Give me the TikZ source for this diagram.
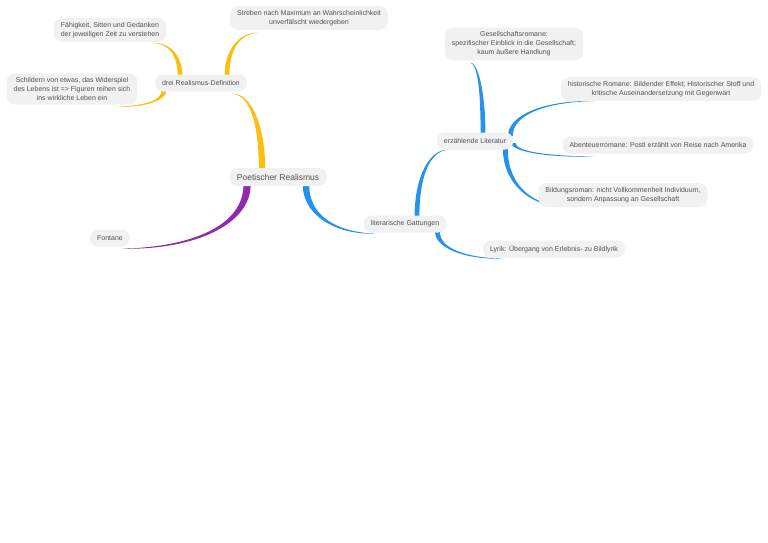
\documentclass[tikz,border=0pt]{standalone}
\usepackage{fontspec}
\setsansfont{Liberation Sans}
\definecolor{mapgold}{HTML}{FBBE12}
\definecolor{mappurple}{HTML}{9029AC}
\definecolor{mapblue}{HTML}{2792EA}
\definecolor{mapbox}{HTML}{F1F1F1}
\definecolor{maptext}{HTML}{525252}
\usetikzlibrary{calc,backgrounds}
\tikzset{
    mapnode/.style={
        fill=mapbox,
        rounded corners=8pt,
        inner xsep=7pt,
        inner ysep=4pt,
        minimum height=17pt,
        text=maptext,
        align=center,
        font=\sffamily\fontsize{7}{9}\selectfont
    },
    maproot/.style={
        mapnode,
        inner xsep=7.5pt,
        minimum height=18pt,
        font=\sffamily\fontsize{8.5}{10}\selectfont
    }
}
% tapered branch: colour, start, end, half width at start
\newcommand{\mapbranch}[4]{%
    \path (#2) coordinate (bs) (#3) coordinate (be) (bs |- be) coordinate (bc);
    \path ($(bs)!0.6!(bc)$) coordinate (ba) ($(bc)!0.4!(be)$) coordinate (bb);
    \path ($(bs)!#4!90:(ba)$) coordinate (bs1) ($(bs)!#4!-90:(ba)$) coordinate (bs2)
        ($(ba)+(bs1)-(bs)$) coordinate (ba1) ($(ba)+(bs2)-(bs)$) coordinate (ba2)
        ($(bb)!0.45*#4!90:(be)$) coordinate (bb1) ($(bb)!0.45*#4!-90:(be)$) coordinate (bb2);
    \fill[#1] (bs1) .. controls (ba1) and (bb1) .. (be)
        .. controls (bb2) and (ba2) .. (bs2) -- cycle;
}

\begin{document}
\begin{tikzpicture}[x=1pt,y=-1pt]
    \useasboundingbox (0,0) rectangle (768,543);

    \node[maproot] (root) at (278,177) {Poetischer Realismus};

    \node[mapnode] (definition) at (201,83) {drei Realismus-Definition};
    \node[mapnode] (faehigkeit) at (110,30)
        {Fähigkeit, Sitten und Gedanken\\der jeweiligen Zeit zu verstehen};
    \node[mapnode] (streben) at (309,18)
        {Streben nach Maximum an Wahrscheinlichkeit\\unverfälscht wiedergeben};
    \node[mapnode] (schildern) at (72,89)
        {Schildern von etwas, das Widerspiel\\des Lebens ist => Figuren reihen sich\\ins wirkliche Leben ein};

    \node[mapnode] (fontane) at (110,238) {Fontane};

    \node[mapnode] (gattungen) at (405,224) {literarische Gattungen};
    \node[mapnode] (erzaehlend) at (475,141) {erzählende Literatur};
    \node[mapnode] (lyrik) at (554,249) {Lyrik: Übergang von Erlebnis- zu Bildlyrik};
    \node[mapnode] (gesellschaft) at (514,44)
        {Gesellschaftsromane:\\spezifischer Einblick in die Gesellschaft;\\kaum äußere Handlung};
    \node[mapnode] (historisch) at (661,89)
        {historische Romane: Bildender Effekt; Historischer Stoff und\\kritische Auseinandersetzung mit Gegenwart};
    \node[mapnode] (abenteuer) at (658,145)
        {Abenteuerromane: Postl erzählt von Reise nach Amerika};
    \node[mapnode] (bildung) at (623,195)
        {Bildungsroman: nicht Vollkommenheit Individuum,\\sondern Anpassung an Gesellschaft};

    \begin{pgfonlayer}{background}
        \mapbranch{mapgold}{$(root.north)+(-16,1)$}{$(definition.south east)+(-15,2)$}{3.2pt}
        \mapbranch{mapgold}{$(definition.north)+(-21,1)$}{$(faehigkeit.south east)+(-13,1)$}{2.4pt}
        \mapbranch{mapgold}{$(definition.north)+(26,1)$}{$(streben.south west)+(28,3)$}{2.4pt}
        \mapbranch{mapgold}{$(definition.south)+(-37,-1)$}{$(schildern.south east)+(-21,2)$}{2.4pt}

        \mapbranch{mappurple}{$(root.south)+(-31,-1)$}{$(fontane.south east)+(-9,2)$}{3.6pt}

        \mapbranch{mapblue}{$(root.south)+(28,-1)$}{$(gattungen.south west)+(13,1)$}{3.2pt}
        \mapbranch{mapblue}{$(gattungen.north)+(12,1)$}{$(erzaehlend.south west)+(12,0)$}{2.4pt}
        \mapbranch{mapblue}{$(gattungen.south east)+(-9,-1)$}{$(lyrik.south west)+(21,1)$}{2.4pt}
        \mapbranch{mapblue}{$(erzaehlend.north)+(8,1)$}{$(gesellschaft.south west)+(25,2)$}{2.4pt}
        \mapbranch{mapblue}{$(erzaehlend.east)+(-3,-5)$}{$(historisch.south west)+(35,0)$}{2.4pt}
        \mapbranch{mapblue}{$(erzaehlend.east)+(0,2)$}{$(abenteuer.south west)+(31,3)$}{2.2pt}
        \mapbranch{mapblue}{$(erzaehlend.south east)+(-8,-1)$}{$(bildung.south west)+(30,0)$}{2.4pt}
    \end{pgfonlayer}
\end{tikzpicture}
\end{document}
